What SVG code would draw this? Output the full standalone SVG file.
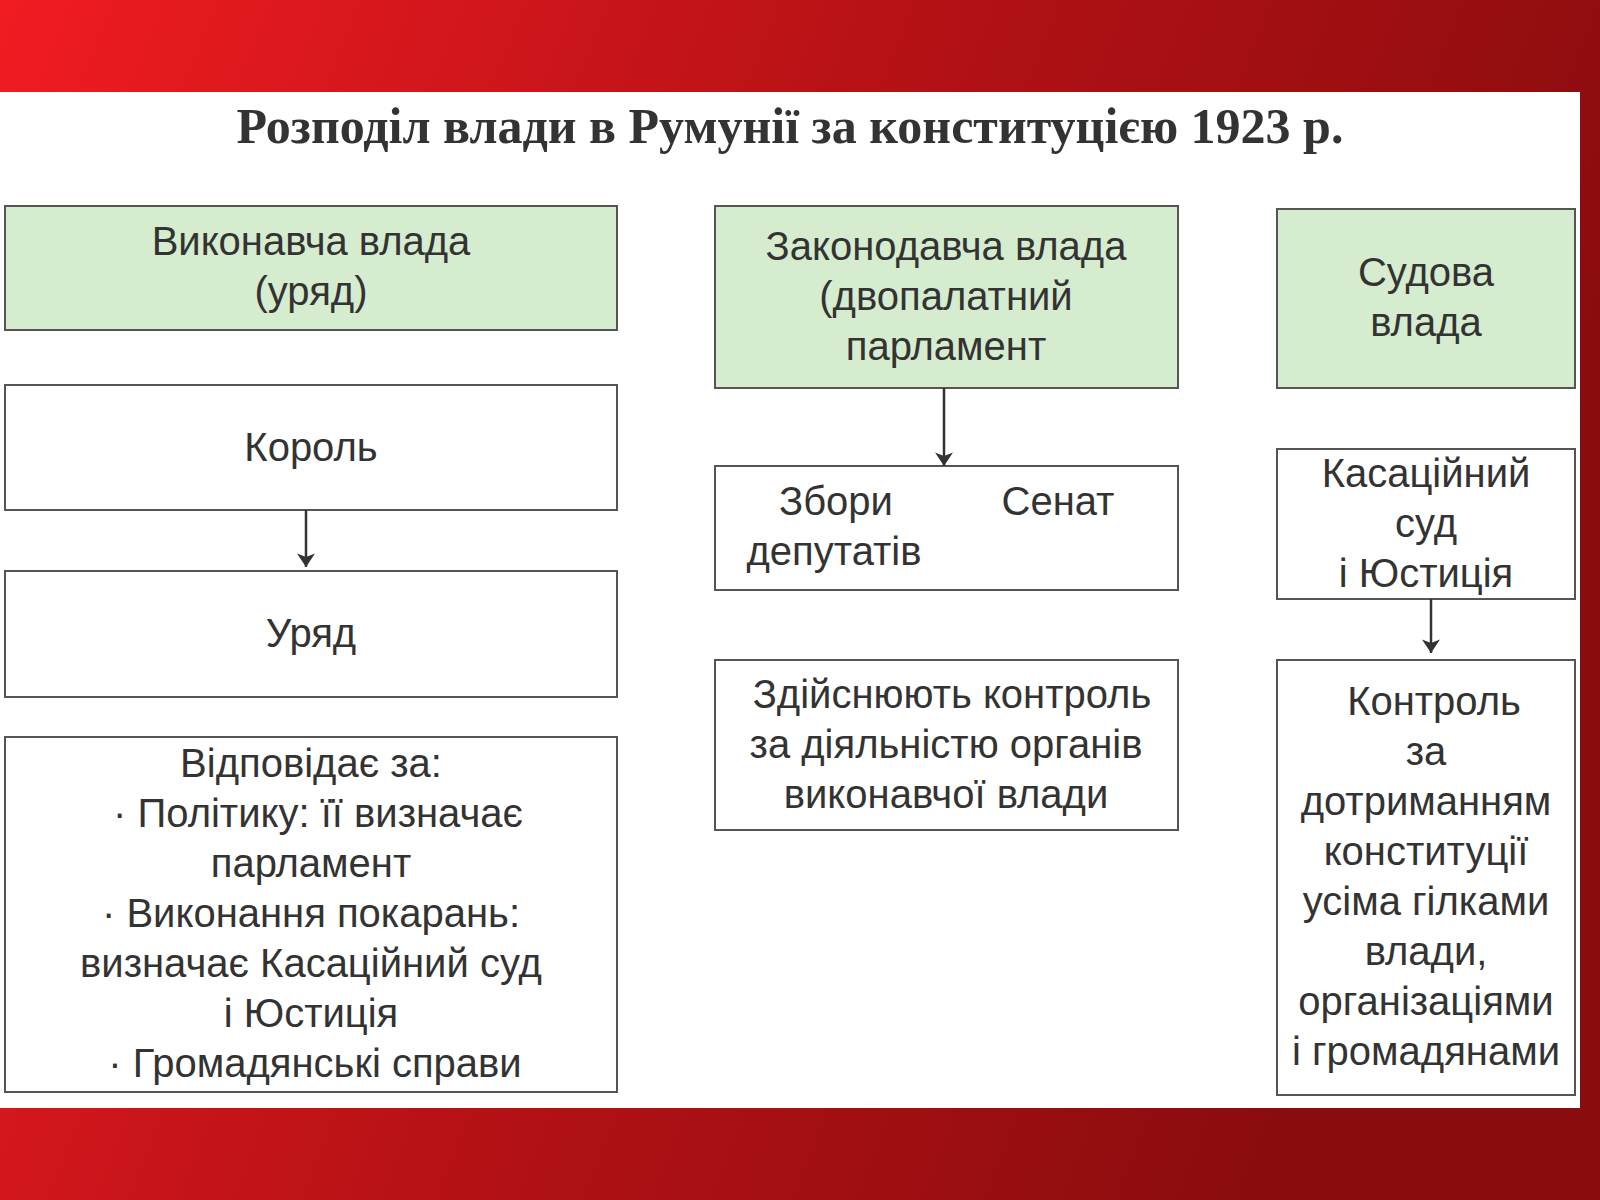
<svg xmlns="http://www.w3.org/2000/svg" width="1600" height="1200" viewBox="0 0 1600 1200">
<defs>
<linearGradient id="bg" x1="0" y1="0" x2="1" y2="0.3">
<stop offset="0" stop-color="#f01c22"/><stop offset="0.5" stop-color="#b81216"/><stop offset="1" stop-color="#8a0c0e"/>
</linearGradient>
<marker id="a" viewBox="0 0 12 16" refX="12" refY="8" markerWidth="14" markerHeight="18" orient="auto" markerUnits="userSpaceOnUse"><path d="M0,0 L12,8 L0,16 L3,8 z" fill="#333"/></marker>
</defs>
<style>
.g{fill:#d6eccf;stroke:#555;stroke-width:2}
.w{fill:#fff;stroke:#555;stroke-width:2}
text{font-family:"Liberation Sans",Arial,sans-serif;font-size:40px;fill:#333;text-anchor:middle}
.t{font-family:"Liberation Serif","Times New Roman",serif;font-weight:bold;font-size:50px}
.c{stroke:#333;stroke-width:2.5;fill:none;marker-end:url(#a)}
</style>
<rect width="1600" height="1200" fill="url(#bg)"/>
<rect x="0" y="92" width="1580" height="1016" fill="#fff"/>
<text class="t" x="790" y="143">Розподіл влади в Румунії за конституцією 1923 р.</text>
<g id="exec"><rect class="g" x="5" y="206" width="612" height="124"/><text x="311" y="255">Виконавча влада</text><text x="311" y="305">(уряд)</text></g>
<g id="king"><rect class="w" x="5" y="385" width="612" height="125"/><text x="311" y="461">Король</text></g>
<g id="gov"><rect class="w" x="5" y="571" width="612" height="126"/><text x="311" y="647">Уряд</text></g>
<g id="resp"><rect class="w" x="5" y="737" width="612" height="355"/>
<text x="311" y="777">Відповідає за:</text>
<text x="318" y="827">· Політику: її визначає</text>
<text x="311" y="877">парламент</text>
<text x="311" y="927">· Виконання покарань:</text>
<text x="311" y="977">визначає Касаційний суд</text>
<text x="311" y="1027">і Юстиція</text>
<text x="315" y="1077">· Громадянські справи</text></g>
<g id="leg"><rect class="g" x="715" y="206" width="463" height="182"/><text x="946" y="260">Законодавча влада</text><text x="946" y="310">(двопалатний</text><text x="946" y="360">парламент</text></g>
<g id="chambers"><rect class="w" x="715" y="466" width="463" height="124"/><text x="836" y="515">Збори</text><text x="834" y="565">депутатів</text><text x="1058" y="515">Сенат</text></g>
<g id="control"><rect class="w" x="715" y="660" width="463" height="170"/><text x="952" y="708">Здійснюють контроль</text><text x="946" y="758">за діяльністю органів</text><text x="946" y="808">виконавчої влади</text></g>
<g id="jud"><rect class="g" x="1277" y="209" width="298" height="179"/><text x="1426" y="286">Судова</text><text x="1426" y="336">влада</text></g>
<g id="court"><rect class="w" x="1277" y="449" width="298" height="150"/><text x="1426" y="487">Касаційний</text><text x="1426" y="537">суд</text><text x="1426" y="587">і Юстиція</text></g>
<g id="jctl"><rect class="w" x="1277" y="660" width="298" height="435"/>
<text x="1434" y="715">Контроль</text><text x="1426" y="765">за</text><text x="1426" y="815">дотриманням</text><text x="1426" y="865">конституції</text><text x="1426" y="915">усіма гілками</text><text x="1426" y="965">влади,</text><text x="1426" y="1015">організаціями</text><text x="1426" y="1065">і громадянами</text></g>
<g id="connectors">
<line class="c" x1="306" y1="510" x2="306" y2="567"/>
<line class="c" x1="944" y1="388" x2="944" y2="466"/>
<line class="c" x1="1431" y1="599" x2="1431" y2="653"/>
</g>
</svg>
